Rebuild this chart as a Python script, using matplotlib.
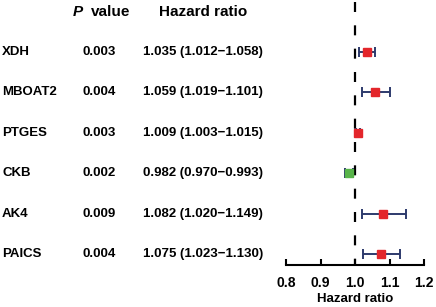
import matplotlib
matplotlib.use("Agg")
import matplotlib.pyplot as plt
import matplotlib.transforms as mtransforms

genes = ["XDH", "MBOAT2", "PTGES", "CKB", "AK4", "PAICS"]
p_values = ["0.003", "0.004", "0.003", "0.002", "0.009", "0.004"]
hr = [1.035, 1.059, 1.009, 0.982, 1.082, 1.075]
lo = [1.012, 1.019, 1.003, 0.970, 1.020, 1.023]
hi = [1.058, 1.101, 1.015, 0.993, 1.149, 1.130]
xticks = [0.8, 0.9, 1.0, 1.1, 1.2]

plt.rcParams['font.family'] = ['Liberation Sans', 'DejaVu Sans']
plt.rcParams['font.weight'] = 'bold'

W, H = 436, 307
fig = plt.figure(figsize=(W / 100, H / 100), dpi=100)
ax = fig.add_axes([286 / W, 42 / H, 138 / W, 265 / H])

red = "#E3262B"
green = "#58B44A"
navy = "#2D3A6C"

ypos = list(range(len(genes)))
for i in ypos:
    col = green if hr[i] < 1 else red
    ax.errorbar([hr[i]], [i], xerr=[[hr[i] - lo[i]], [hi[i] - hr[i]]],
                fmt='none', ecolor=navy, elinewidth=1.4, capsize=3.6, capthick=1.4, zorder=2)
    ax.plot([hr[i]], [i], marker='s', ms=5.8, color=col, mec=col, zorder=3, ls='none')

ytop, ybot = -52 / 40.4, 5 + 11 / 40.4
ax.plot([1.0, 1.0], [ytop + 0.04, ybot], color='black', lw=1.6,
        dashes=(4.5, 6.0), zorder=1, clip_on=False)

ax.set_xlim(0.8, 1.2)
ax.set_ylim(ybot, ytop)
ax.set_xticks(xticks)
ax.set_xticklabels([f"{t:.1f}" for t in xticks], fontsize=10, fontweight='bold')
ax.tick_params(axis='x', direction='in', length=4, width=1.5, pad=8)
ax.set_yticks([])
for s in ['top', 'right', 'left']:
    ax.spines[s].set_visible(False)
ax.spines['bottom'].set_linewidth(1.5)
ax.patch.set_visible(False)

fig.text(355 / W, (307 - 299.5) / H, "Hazard ratio", ha='center', va='center',
         fontsize=9.5, fontweight='bold')

trans = mtransforms.blended_transform_factory(fig.transFigure, ax.transData)
for i in ypos:
    ax.text(2 / W, i, genes[i], transform=trans, ha='left', va='center',
            fontsize=9.5, fontweight='bold', clip_on=False)
    ax.text(99 / W, i, p_values[i], transform=trans, ha='center', va='center',
            fontsize=9.5, fontweight='bold', clip_on=False)
    ax.text(203 / W, i, f"{hr[i]:.3f} ({lo[i]:.3f}\u2212{hi[i]:.3f})", transform=trans,
            ha='center', va='center', fontsize=9.5, fontweight='bold', clip_on=False)

hy = -(52 - 12) / 40.4
ax.text(73 / W, hy, "P", transform=trans, ha='left', va='center', fontsize=11,
        fontweight='bold', fontstyle='italic', clip_on=False)
ax.text(91 / W, hy, "value", transform=trans, ha='left', va='center', fontsize=11,
        fontweight='bold', clip_on=False)
ax.text(203 / W, hy, "Hazard ratio", transform=trans, ha='center', va='center', fontsize=11,
        fontweight='bold', clip_on=False)

fig.savefig("out.png", dpi=100)
